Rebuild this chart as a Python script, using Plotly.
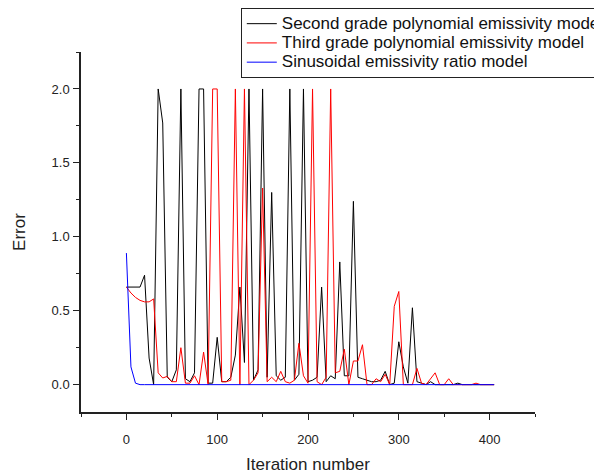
import plotly.graph_objects as go

iteration = [0, 5, 10, 15, 20, 25, 30, 35, 40, 45, 50, 55, 60, 65, 70, 75, 80, 85, 90, 95,
             100, 105, 110, 115, 120, 125, 130, 135, 140, 145, 150, 155, 160, 165, 170, 175,
             180, 185, 190, 195, 200, 205, 210, 215, 220, 225, 230, 235, 240, 245, 250, 255,
             260, 265, 270, 275, 280, 285, 290, 295, 300, 305, 310, 315, 320, 325, 330, 335,
             340, 345, 350, 355, 360, 365, 370, 375, 380, 385, 390, 395, 400, 405]

second_grade = [0.66, 0.66, 0.66, 0.66, 0.74, 0.18, 0.0, 2.0, 1.77, 0.05, 0.02, 0.1, 2.0, 0.04,
                0.02, 0.08, 2.0, 2.0, 0.01, 0.01, 0.32, 0.02, 0.02, 0.05, 0.2, 0.66, 0.15, 2.0,
                0.03, 0.1, 2.0, 0.05, 1.30, 0.06, 0.03, 0.05, 2.0, 0.03, 0.07, 2.0, 0.02, 0.03,
                0.05, 0.66, 0.02, 0.06, 0.04, 0.83, 0.06, 0.06, 1.24, 0.05, 0.04, 0.03, 0.02,
                0.02, 0.03, 0.09, 0.0, 0.01, 0.29, 0.12, 0.01, 0.52, 0.02, 0.01, 0.0, 0.02,
                0.0, 0.0, 0.0, 0.0, 0.0, 0.01, 0.0, 0.0, 0.0, 0.0, 0.0, 0.0, 0.0, 0.0]

third_grade = [0.66, 0.62, 0.59, 0.57, 0.56, 0.56, 0.58, 0.08, 0.045, 0.056, 0.02, 0.02, 0.25,
               0.01, 0.01, 0.06, 0.0, 0.22, 0.0, 2.0, 2.0, 0.02, 0.02, 0.03, 2.0, 0.0, 2.0, 0.0,
               0.03, 0.08, 1.33, 0.02, 0.05, 0.02, 0.09, 0.02, 0.01, 0.03, 0.28, 0.06, 0.01,
               2.0, 0.02, 0.0, 0.05, 2.0, 0.08, 0.09, 0.24, 0.0, 0.16, 0.16, 0.27, 0.0, 0.0,
               0.04, 0.02, 0.07, 0.0, 0.53, 0.63, 0.0, 0.0, 0.0, 0.11, 0.01, 0.0, 0.04, 0.08,
               0.0, 0.0, 0.04, 0.0, 0.0, 0.0, 0.0, 0.0, 0.01, 0.0, 0.0, 0.0, 0.0]

sinusoidal = [0.89, 0.12, 0.01, 0.0, 0.0, 0.0, 0.0, 0.0, 0.0, 0.0, 0.0, 0.0, 0.0, 0.0, 0.0,
              0.0, 0.0, 0.0, 0.0, 0.0, 0.0, 0.0, 0.0, 0.0, 0.0, 0.0, 0.0, 0.0, 0.0, 0.0, 0.0,
              0.0, 0.0, 0.0, 0.0, 0.0, 0.0, 0.0, 0.0, 0.0, 0.0, 0.0, 0.0, 0.0, 0.0, 0.0, 0.0,
              0.0, 0.0, 0.0, 0.0, 0.0, 0.0, 0.0, 0.0, 0.0, 0.0, 0.0, 0.0, 0.0, 0.0, 0.0, 0.0,
              0.0, 0.0, 0.0, 0.0, 0.0, 0.0, 0.0, 0.0, 0.0, 0.0, 0.0, 0.0, 0.0, 0.0, 0.0, 0.0,
              0.0, 0.0, 0.0]

series_names = ["Second grade polynomial emissivity model",
                "Third grade polynomial emissivity model",
                "Sinusoidal emissivity ratio model"]
series_values = [second_grade, third_grade, sinusoidal]
series_colors = ["#000000", "#ff0000", "#0000ff"]

fig = go.Figure()
for name, vals, col in zip(series_names, series_values, series_colors):
    fig.add_trace(go.Scatter(x=iteration, y=vals, mode="lines",
                             name='<span style="font-size:17px">' + name + '</span>',
                             line=dict(color=col, width=1)))

axis_font = dict(family="Liberation Sans, Arial, sans-serif", size=13, color="#222")
title_font = dict(family="Liberation Sans, Arial, sans-serif", size=17, color="#222")

fig.update_layout(
    width=602, height=474,
    margin=dict(l=73, r=75, t=44, b=70, autoexpand=False),
    paper_bgcolor="white", plot_bgcolor="white",
    showlegend=True,
    legend=dict(x=0.352, y=1.1221, xanchor="left", yanchor="top",
                bgcolor="white", bordercolor="#222", borderwidth=1,
                font=dict(family="Liberation Sans, Arial, sans-serif", size=12.5, color="#111"),
                tracegroupgap=0),
    xaxis=dict(range=[-50, 450], showgrid=False, zeroline=False,
               showline=True, linecolor="#222", linewidth=1.5,
               ticks="outside", ticklen=6, tickwidth=1.2, tickcolor="#222",
               tick0=0, dtick=100, tickfont=axis_font, ticklabelstandoff=9,
               minor=dict(ticks="outside", ticklen=3, dtick=50, tick0=0, tickcolor="#222", showgrid=False),
               title=dict(text="Iteration number", font=title_font, standoff=12)),
    yaxis=dict(range=[-0.185, 2.25], showgrid=False, zeroline=False,
               showline=True, linecolor="#222", linewidth=1.5,
               ticks="outside", ticklen=6, tickwidth=1.2, tickcolor="#222",
               tick0=0, dtick=0.5, tickformat=".1f", tickfont=axis_font, ticklabelstandoff=1,
               minor=dict(ticks="outside", ticklen=3, dtick=0.25, tick0=0, tickcolor="#222", showgrid=False),
               title=dict(text="Error", font=title_font, standoff=22)),
)

fig.write_html("out.html")
